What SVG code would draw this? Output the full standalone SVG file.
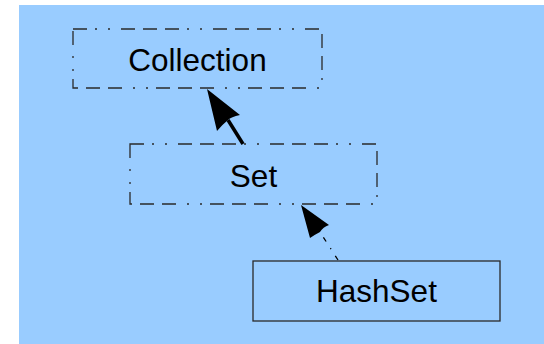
<svg xmlns="http://www.w3.org/2000/svg" width="544" height="344" viewBox="0 0 544 344">
<style>
.bg{fill:#99ccff}
.box{fill:#99ccff;stroke:#2a2a2a;stroke-width:1.3}
.dashed{stroke-dasharray:14 8 2 11 2 11 14 8 14 8}
.lbl{font-family:"Liberation Sans",Arial,sans-serif;font-size:31.5px;fill:#000;text-anchor:middle}
</style>
<rect class="bg" x="19" y="5" width="525" height="339"/>
<g id="collection">
<rect class="box dashed" x="73" y="29" width="249" height="59"/>
<text class="lbl" x="197.5" y="71">Collection</text>
</g>
<g id="set">
<rect class="box dashed" x="130" y="144" width="247" height="60"/>
<text class="lbl" x="253.5" y="187">Set</text>
</g>
<g id="hashset">
<rect class="box" x="253" y="261" width="247" height="60" stroke="#1a1a1a"/>
<text class="lbl" x="376.5" y="302">HashSet</text>
</g>
<g id="connectors">
<line x1="243" y1="144" x2="228" y2="120" stroke="#000" stroke-width="3.5"/>
<path d="M207,89 L240,115 Q231,117 228,120 Q223,124 217,131 Z" fill="#000"/>
<line x1="338" y1="260" x2="320" y2="232" stroke="#000" stroke-width="1.3" stroke-dasharray="5 8 1 8"/>
<path d="M301,205 L329,225 Q323,227 320,232 Q316,234 310,238 Z" fill="#000"/>
</g>
</svg>
